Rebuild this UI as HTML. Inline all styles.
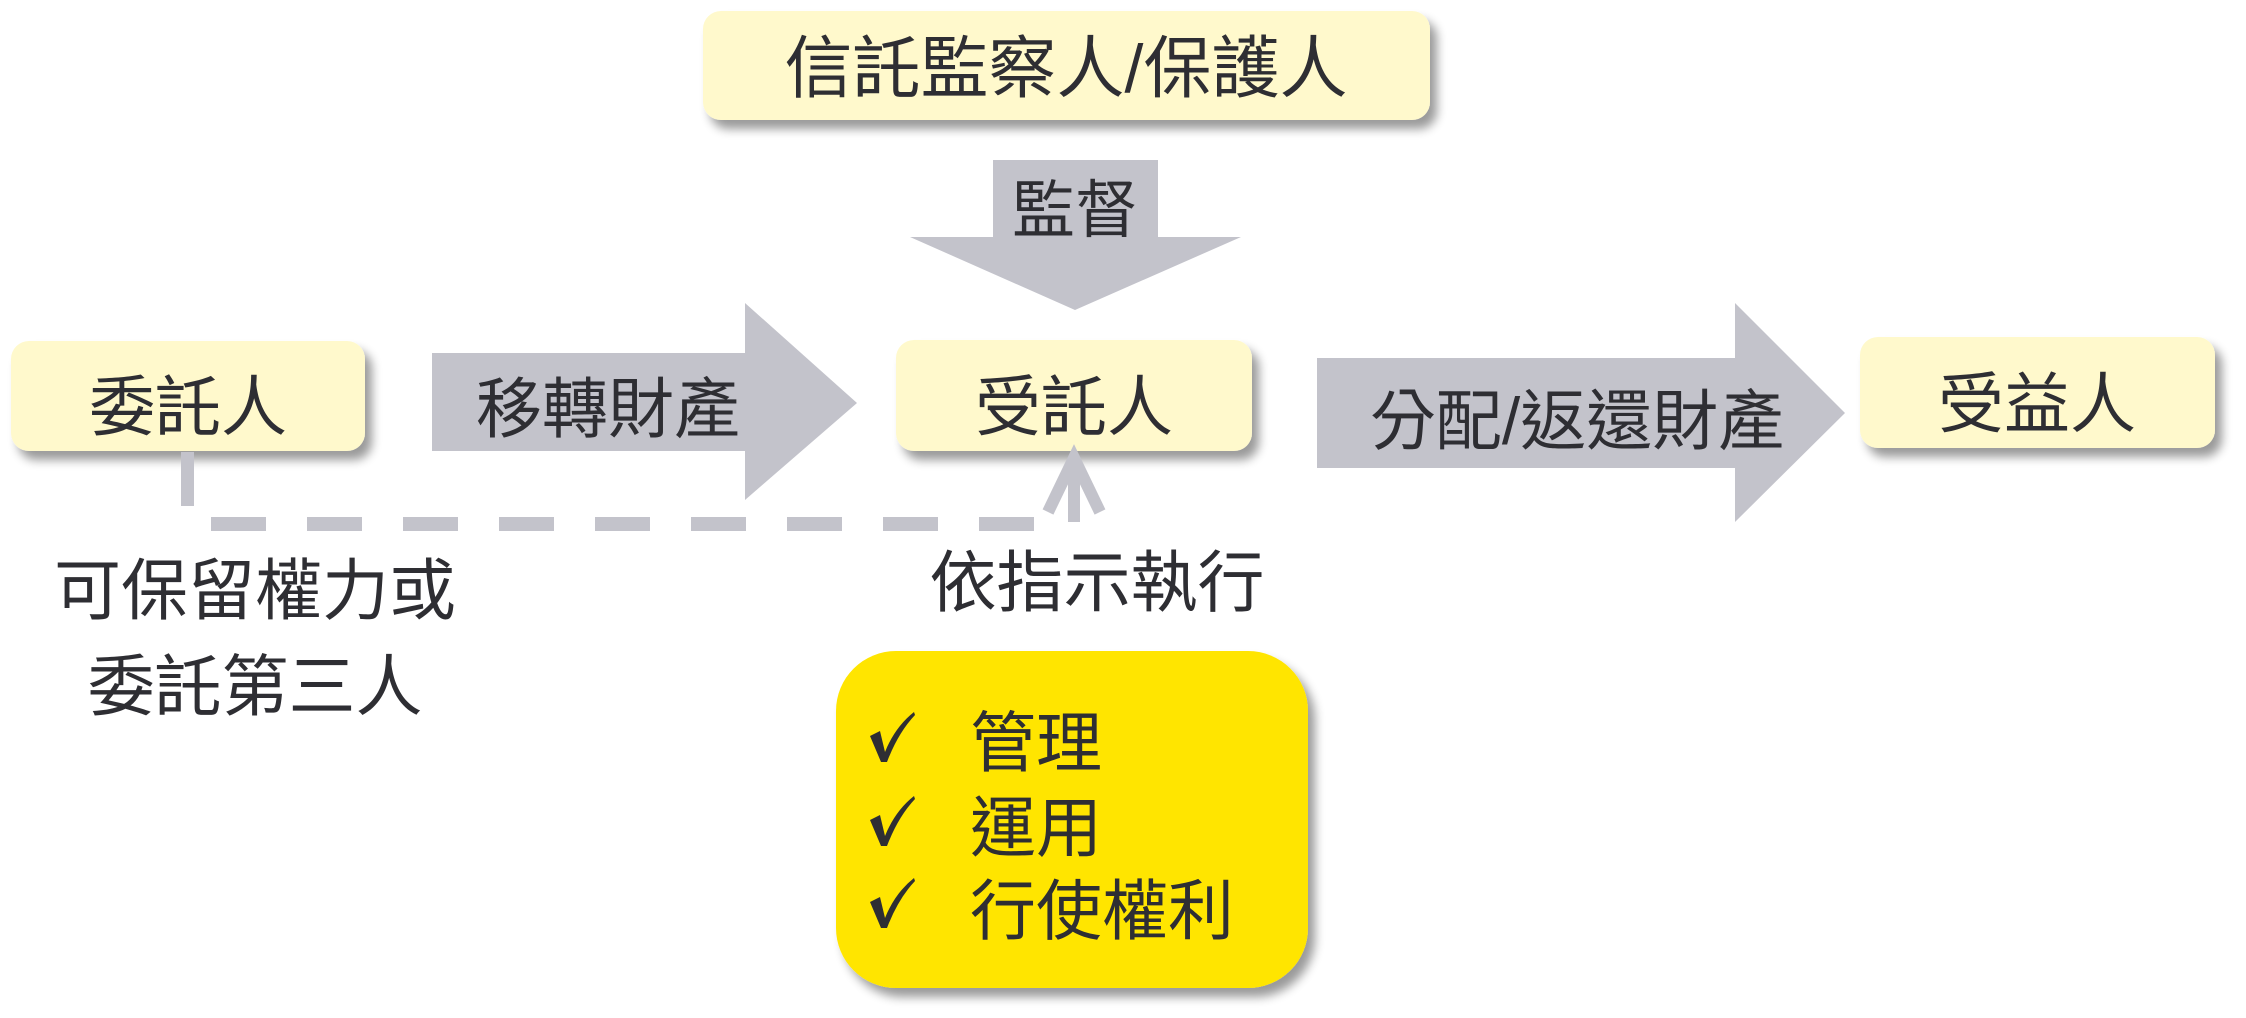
<!DOCTYPE html>
<html><head><meta charset="utf-8"><style>
html,body{margin:0;padding:0;background:#fff}
svg{display:block}
text{font-family:"Liberation Sans","Noto Sans CJK TC",sans-serif;fill:#2e2e33}
</style></head><body>
<svg width="2246" height="1018" viewBox="0 0 2246 1018" xmlns="http://www.w3.org/2000/svg">
<defs>
<filter id="sh" x="-10%" y="-20%" width="130%" height="160%">
<feGaussianBlur in="SourceAlpha" stdDeviation="5"/>
<feOffset dx="7" dy="9" result="b"/>
<feComponentTransfer><feFuncA type="linear" slope="0.4"/></feComponentTransfer>
<feMerge><feMergeNode/><feMergeNode in="SourceGraphic"/></feMerge>
</filter>
</defs>
<g filter="url(#sh)" fill="#fff9cc">
<rect x="703" y="11" width="727" height="109" rx="18"/>
<rect x="11" y="341" width="354" height="110" rx="18"/>
<rect x="896" y="340" width="356" height="111" rx="18"/>
<rect x="1860" y="337" width="355" height="111" rx="18"/>
<rect x="836" y="651" width="472" height="337" rx="60" fill="#ffe500"/>
</g>
<g fill="#c3c3cb">
<polygon points="993,160 1158,160 1158,237 1241,237 1075,310 910,237 993,237"/>
<polygon points="432,353 745,353 745,303 857,403 745,500 745,451 432,451"/>
<polygon points="1317,358 1735,358 1735,303 1845,413 1735,522 1735,468 1317,468"/>
<rect x="181" y="452" width="13" height="54"/>
</g>
<line x1="211" y1="524" x2="1040" y2="524" stroke="#c3c3cb" stroke-width="14" stroke-dasharray="55 41"/>
<line x1="1074" y1="522" x2="1074" y2="460" stroke="#c3c3cb" stroke-width="12"/>
<polyline points="1048,512 1074,458 1100,512" fill="none" stroke="#c3c3cb" stroke-width="12"/>
<text x="1066" y="92" font-size="68" text-anchor="middle">信託監察人/保護人</text>
<text x="1075" y="232" font-size="63" text-anchor="middle">監督</text>
<text x="188" y="430" font-size="66" text-anchor="middle">委託人</text>
<text x="608" y="432" font-size="66" text-anchor="middle">移轉財產</text>
<text x="1074" y="430" font-size="66" text-anchor="middle">受託人</text>
<text x="1577" y="444" font-size="66" text-anchor="middle">分配/返還財產</text>
<text x="2037" y="427" font-size="66" text-anchor="middle">受益人</text>
<text x="255" y="614" font-size="67" text-anchor="middle">可保留權力或</text>
<text x="255" y="710" font-size="67" text-anchor="middle">委託第三人</text>
<text x="1097" y="606" font-size="67" text-anchor="middle">依指示執行</text>
<g fill="#2e2e33">
<path d="M870,736 L880,731 L885,752 Q895,727 914,712 L915,715 Q898,733 887,762 L881,762 Z"/>
<path d="M870,820 L880,815 L885,836 Q895,811 914,796 L915,799 Q898,817 887,846 L881,846 Z"/>
<path d="M870,902 L880,897 L885,918 Q895,893 914,878 L915,881 Q898,899 887,928 L881,928 Z"/>
</g>
<g font-size="66">
<text x="970" y="766">管理</text>
<text x="970" y="851">運用</text>
<text x="970" y="934">行使權利</text>
</g>
</svg>
</body></html>
